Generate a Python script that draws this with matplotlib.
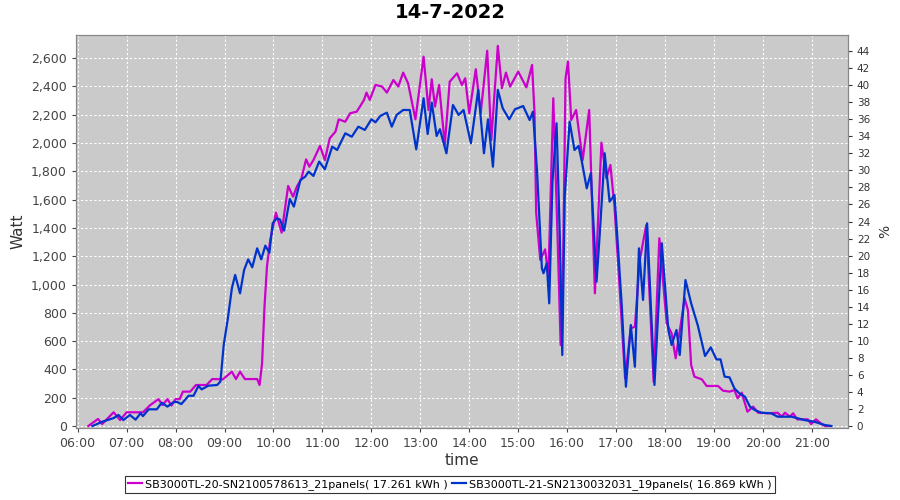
import matplotlib
matplotlib.use("Agg")
import matplotlib.pyplot as plt
from matplotlib.ticker import FuncFormatter, MultipleLocator

# DATA
title = "14-7-2022"
label_20 = "SB3000TL-20-SN2100578613_21panels( 17.261 kWh )"
label_21 = "SB3000TL-21-SN2130032031_19panels( 16.869 kWh )"

time_20 = ["06:13", "06:25", "06:30", "06:36", "06:44", "06:52", "07:00", "07:20", "07:29", "07:39",
           "07:44", "07:50", "07:55", "08:00", "08:05", "08:09", "08:18", "08:25", "08:38", "08:45",
           "08:58", "09:09", "09:14", "09:19", "09:25", "09:40", "09:43", "09:46", "09:49", "09:52",
           "09:56", "10:03", "10:10", "10:18", "10:24", "10:29", "10:34", "10:40", "10:44", "10:49",
           "10:57", "11:03", "11:09", "11:16", "11:20", "11:28", "11:34", "11:42", "11:46", "11:51",
           "11:54", "11:58", "12:05", "12:13", "12:19", "12:27", "12:33", "12:39", "12:45", "12:54",
           "13:04", "13:10", "13:14", "13:18", "13:23", "13:30", "13:36", "13:45", "13:51", "13:55",
           "14:00", "14:08", "14:14", "14:22", "14:27", "14:35", "14:40", "14:45", "14:50", "15:00",
           "15:10", "15:17", "15:20", "15:22", "15:27", "15:33", "15:37", "15:43", "15:48", "15:52",
           "15:55", "15:58", "16:01", "16:05", "16:11", "16:19", "16:27", "16:34", "16:42", "16:48",
           "16:53", "16:58", "17:04", "17:11", "17:18", "17:23", "17:29", "17:37", "17:46", "17:53",
           "18:02", "18:08", "18:13", "18:24", "18:28", "18:32", "18:36", "18:45", "18:51", "19:05",
           "19:11", "19:19", "19:25", "19:29", "19:34", "19:41", "19:48", "19:54", "20:06", "20:18",
           "20:23", "20:27", "20:33", "20:37", "20:42", "20:55", "20:59", "21:05", "21:12", "21:16",
           "21:22"]
watt_20 = [0, 50, 14, 50, 97, 42, 97, 97, 148, 190,
           148, 190, 145, 190, 190, 243, 243, 290, 290, 332,
           330, 384, 332, 384, 332, 332, 290, 443, 844, 1126,
           1315, 1508, 1367, 1697, 1621, 1697, 1744, 1885, 1833, 1880,
           1980, 1880, 2034, 2081, 2168, 2151, 2211, 2222, 2258, 2305,
           2357, 2305, 2411, 2400, 2357, 2446, 2400, 2498, 2423, 2168,
           2611, 2234, 2451, 2258, 2411, 1987, 2434, 2493, 2411, 2458,
           2211, 2522, 2211, 2653, 2022, 2687, 2388, 2498, 2399, 2505,
           2394, 2552, 2211, 1508, 1174, 1249, 1056, 2317, 1386, 573,
           1150, 2458, 2576, 2163, 2234, 1880, 2234, 938, 2003, 1751,
           1845, 1551, 1009, 337, 691, 702, 1174, 1421, 313, 1327,
           726, 655, 479, 903, 820, 431, 349, 330, 283, 283,
           250, 243, 254, 196, 236, 101, 137, 94, 90, 94,
           66, 94, 66, 90, 47, 47, 14, 47, 14, 0,
           0]

time_21 = ["06:18", "06:30", "06:44", "06:50", "06:56", "07:04", "07:11", "07:17", "07:20", "07:27",
           "07:37", "07:43", "07:50", "07:58", "08:02", "08:07", "08:16", "08:22", "08:28", "08:32",
           "08:40", "08:51", "08:55", "08:59", "09:04", "09:09", "09:13", "09:19", "09:24", "09:29",
           "09:34", "09:40", "09:45", "09:50", "09:55", "09:59", "10:04", "10:08", "10:13", "10:20",
           "10:25", "10:33", "10:39", "10:43", "10:49", "10:56", "11:03", "11:12", "11:18", "11:28",
           "11:36", "11:44", "11:52", "12:00", "12:05", "12:11", "12:19", "12:25", "12:31", "12:39",
           "12:47", "12:55", "13:04", "13:09", "13:14", "13:20", "13:24", "13:32", "13:40", "13:47",
           "13:53", "14:02", "14:11", "14:18", "14:23", "14:29", "14:35", "14:41", "14:49", "14:56",
           "15:06", "15:14", "15:18", "15:23", "15:29", "15:31", "15:35", "15:38", "15:42", "15:47",
           "15:51", "15:54", "15:57", "16:03", "16:09", "16:14", "16:18", "16:24", "16:29", "16:36",
           "16:40", "16:46", "16:52", "16:58", "17:02", "17:07", "17:12", "17:18", "17:23", "17:28",
           "17:33", "17:38", "17:47", "17:56", "18:04", "18:08", "18:14", "18:18", "18:25", "18:32",
           "18:40", "18:49", "18:56", "19:03", "19:08", "19:13", "19:19", "19:25", "19:31", "19:38",
           "19:44", "19:50", "19:58", "20:10", "20:18", "20:35", "20:51", "21:03", "21:16", "21:24"]
watt_21 = [0, 30, 56, 78, 42, 78, 45, 90, 70, 118,
           118, 165, 137, 170, 170, 155, 214, 214, 283, 259,
           285, 290, 315, 573, 757, 973, 1068, 938, 1103, 1178,
           1122, 1256, 1178, 1275, 1225, 1433, 1468, 1460, 1381, 1605,
           1551, 1739, 1763, 1798, 1768, 1869, 1815, 1975, 1951, 2069,
           2045, 2116, 2093, 2168, 2147, 2192, 2215, 2116, 2199, 2234,
           2234, 1956, 2317, 2064, 2286, 2050, 2098, 1928, 2269, 2199,
           2234, 1999, 2376, 1928, 2168, 1833, 2376, 2246, 2168, 2239,
           2262, 2163, 2222, 1810, 1115, 1080, 1150, 867, 1727, 2140,
           1338, 502, 1621, 2151, 1951, 1980, 1869, 1680, 1787, 1020,
           1362, 1928, 1586, 1633, 1292, 844, 278, 714, 419, 1256,
           891, 1433, 290, 1292, 679, 573, 679, 502, 1032, 867,
           714, 495, 556, 471, 471, 349, 344, 266, 231, 207,
           137, 113, 94, 90, 66, 66, 42, 30, 7, 0]

hour_ticks = list(range(6, 22))


def to_min(hhmm):
    h, m = hhmm.split(":")
    return int(h) * 60 + int(m)


x20 = [to_min(t) for t in time_20]
x21 = [to_min(t) for t in time_21]

fig = plt.figure(figsize=(9, 5), dpi=100)
ax = fig.add_axes([0.0845, 0.144, 0.8575, 0.786])
ax.set_facecolor("#cacaca")

ax.plot(x20, watt_20, color="#cc00cc", lw=1.6, solid_joinstyle="round", label=label_20, zorder=3)
ax.plot(x21, watt_21, color="#0033cc", lw=1.6, solid_joinstyle="round", label=label_21, zorder=3)

ax.set_xlim(358, 1304)
ax.set_ylim(-14, 2764)
ax.set_xticks([h * 60 for h in hour_ticks])
ax.xaxis.set_major_formatter(FuncFormatter(lambda v, p: f"{int(v // 60):02d}:00"))
ax.yaxis.set_major_locator(MultipleLocator(200))
ax.yaxis.set_major_formatter(FuncFormatter(lambda v, p: f"{int(v):,}"))
ax.grid(True, color="white", ls=(0, (2, 2)), lw=0.8)
ax.set_axisbelow(True)
ax.tick_params(labelsize=9, colors="#444444", length=3)
ax.set_xlabel("time", fontsize=11, color="#333333", labelpad=2)
ax.set_ylabel("Watt", fontsize=11, color="#333333", labelpad=4)
for s in ax.spines.values():
    s.set_color("#888888")

# right axis in %
ax2 = ax.twinx()
ax2.set_ylim(-0.24, 45.9)
ax2.yaxis.set_major_locator(MultipleLocator(2))
ax2.tick_params(labelsize=7.5, colors="#333333", length=3)
ax2.set_ylabel("%", fontsize=10, color="#333333", labelpad=6)
for s in ax2.spines.values():
    s.set_color("#888888")

fig.suptitle(title, fontsize=14, fontweight="bold", y=0.995)

leg = fig.legend(loc="lower center", bbox_to_anchor=(0.5, 0.002), ncol=2, fontsize=8,
                 frameon=True, fancybox=False, handlelength=1.2, handletextpad=0.3,
                 columnspacing=0.4, borderpad=0.3)
leg.get_frame().set_edgecolor("black")
leg.get_frame().set_linewidth(0.8)

fig.savefig("out.png", dpi=100)
